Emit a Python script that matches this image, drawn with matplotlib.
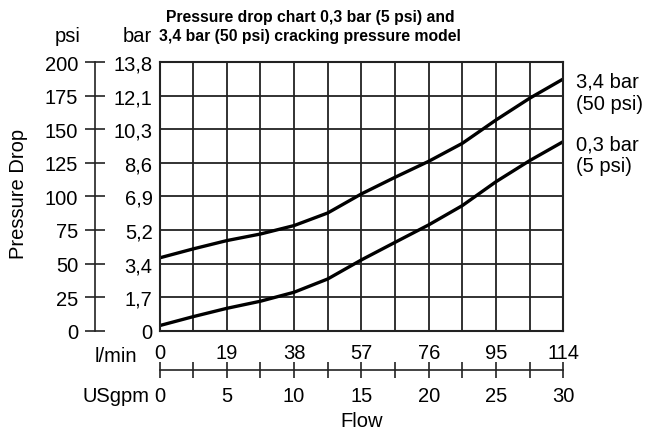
import matplotlib
matplotlib.use("Agg")
import matplotlib.pyplot as plt
from matplotlib import font_manager
from matplotlib.ticker import MultipleLocator, FixedLocator

plt.rcParams['font.family'] = ['Liberation Sans', 'DejaVu Sans']

# Data (flow in USgpm, pressure drop in psi)
flow_gpm = [0, 2.5, 5, 7.5, 10, 12.5, 15, 17.5, 20, 22.5, 25, 27.5, 30]
dp_50psi = [54.2, 60.9, 67.1, 72.0, 78.3, 87.7, 101.9, 114.3, 126.2, 139.6, 157.0, 173.2, 187.6]
dp_5psi = [3.7, 10.4, 16.6, 21.9, 28.6, 38.5, 52.7, 65.8, 78.8, 93.2, 111.0, 126.7, 140.9]

psi_ticks = [0, 25, 50, 75, 100, 125, 150, 175, 200]
bar_labels = ["0", "1,7", "3,4", "5,2", "6,9", "8,6", "10,3", "12,1", "13,8"]
gpm_ticks = [0, 5, 10, 15, 20, 25, 30]
lmin_labels = ["0", "19", "38", "57", "76", "95", "114"]
gpm_labels = ["0", "5", "10", "15", "20", "25", "30"]

W, H = 647, 435
DPI = 100
fig = plt.figure(figsize=(W / DPI, H / DPI), dpi=DPI)

def fx(px):
    return px / W

def fy(py):
    return 1 - py / H

FS = 14.5
left, right, top, bottom = 159.5, 563.3, 63.3, 331.6

ax = fig.add_axes([fx(left), fy(bottom), fx(right - left), (bottom - top) / H])
ax.set_xlim(0, 30)
ax.set_ylim(0, 200)
ax.xaxis.set_major_locator(FixedLocator(gpm_ticks))
ax.xaxis.set_minor_locator(MultipleLocator(2.5))
ax.yaxis.set_major_locator(FixedLocator(psi_ticks))
ax.set_xticklabels(lmin_labels)
ax.set_yticklabels(bar_labels)
ax.tick_params(axis='both', which='both', length=0, labelsize=FS)
ax.tick_params(axis='x', pad=9)
ax.tick_params(axis='y', pad=5)
ax.grid(True, which='both', color='#222222', linewidth=1.3)
for s in ax.spines.values():
    s.set_linewidth(1.5)
    s.set_color('#222222')

ax.plot(flow_gpm, dp_50psi, color='black', linewidth=2.4, solid_capstyle='butt', clip_on=False)
ax.plot(flow_gpm, dp_5psi, color='black', linewidth=2.4, solid_capstyle='butt', clip_on=False)

# psi axis
axp = fig.add_axes([fx(95), fy(bottom), 0.0001, (bottom - top) / H])
axp.set_ylim(0, 200)
axp.yaxis.set_major_locator(FixedLocator(psi_ticks))
axp.set_yticklabels([str(v) for v in psi_ticks])
axp.set_xticks([])
for k in ['top', 'right', 'bottom']:
    axp.spines[k].set_visible(False)
axp.spines['left'].set_linewidth(1.2)
axp.spines['left'].set_color('#222222')
axp.tick_params(axis='y', direction='inout', length=14.4, width=1.2, color='#222222', pad=5, labelsize=FS)
axp.patch.set_visible(False)

# USgpm axis
axg = fig.add_axes([fx(left), fy(370.7), fx(right - left), 0.0001])
axg.set_xlim(0, 30)
axg.xaxis.set_major_locator(FixedLocator(gpm_ticks))
axg.xaxis.set_minor_locator(MultipleLocator(2.5))
axg.set_xticklabels(gpm_labels)
axg.set_yticks([])
for k in ['top', 'right', 'left']:
    axg.spines[k].set_visible(False)
axg.spines['bottom'].set_linewidth(1.2)
axg.spines['bottom'].set_color('#222222')
axg.tick_params(axis='x', which='both', direction='inout', length=11, width=1.2, color='#222222', pad=6, labelsize=FS)
axg.patch.set_visible(False)

# Title font: narrow if available
installed = {f.name for f in font_manager.fontManager.ttflist}
if 'Liberation Sans Narrow' in installed:
    title_family = ['Liberation Sans Narrow', 'DejaVu Sans']
    title_size = 12.6
else:
    title_family = ['Liberation Sans', 'DejaVu Sans']
    title_size = 11.3

fig.text(fx(310), fy(27), "Pressure drop chart 0,3 bar (5 psi) and\n3,4 bar (50 psi) cracking pressure model",
         ha='center', va='center', fontsize=title_size, fontweight='bold', linespacing=1.3,
         family=title_family)
fig.text(fx(68), fy(37), "psi", ha='center', va='center', fontsize=FS)
fig.text(fx(152), fy(37), "bar", ha='right', va='center', fontsize=FS)
fig.text(fx(19), fy(194), "Pressure Drop", ha='center', va='center', rotation=90, fontsize=FS)
fig.text(fx(137), fy(356), "l/min", ha='right', va='center', fontsize=FS)
fig.text(fx(150), fy(397), "USgpm", ha='right', va='center', fontsize=FS)
fig.text(fx(362), fy(422), "Flow", ha='center', va='center', fontsize=FS)
fig.text(fx(576), fy(93), "3,4 bar\n(50 psi)", ha='left', va='center', fontsize=FS, linespacing=1.2)
fig.text(fx(576), fy(156), "0,3 bar\n(5 psi)", ha='left', va='center', fontsize=FS, linespacing=1.2)

fig.savefig("out.png", dpi=DPI)
